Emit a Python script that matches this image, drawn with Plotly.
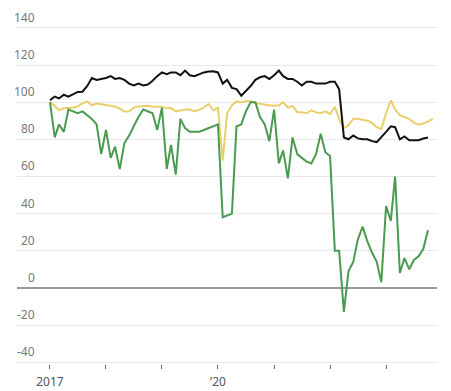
import pandas as pd
import plotly.graph_objects as go

# Monthly observations, Jan 2017 onward
months_black = pd.date_range("2017-01-01", periods=82, freq="MS")
months_yellow = pd.date_range("2017-01-01", periods=83, freq="MS")
months_green = pd.date_range("2017-01-01", periods=82, freq="MS")

black_values = [
    101, 103, 102, 104, 103, 104.5, 105.5, 105.6, 108.7, 113,
    112, 112.5, 113, 114, 112.5, 113, 112, 110, 109, 110,
    109, 109.5, 111.5, 114, 116, 115, 116, 116, 114.5, 117,
    114.5, 114, 115, 116, 116.5, 116.6, 116, 110, 112, 107.7,
    107, 103.5, 106, 108.7, 112, 113.4, 114, 112.5, 114.5, 117,
    114, 112.5, 112.5, 111, 109, 111, 111, 110, 110, 110,
    111, 111, 107, 81, 80, 82, 80.5, 80, 80, 79,
    78.5, 81.5, 84, 87, 86.5, 80, 81.5, 79.5, 79.5, 79.5,
    80.4, 81,
]

yellow_values = [
    100, 98, 95.6, 96.7, 97, 97, 97.7, 99.3, 100.4, 98.3,
    99.3, 99, 98.5, 98.3, 97.7, 96.5, 95, 95, 97, 97.7,
    97.7, 98, 97.5, 97.5, 97.5, 96.8, 96.8, 95, 95.5, 96,
    96, 95, 96, 97, 99, 95.5, 97, 68.5, 94, 98.3,
    100.4, 100, 100.5, 100.5, 99.5, 99, 98.5, 98.3, 98, 98.3,
    100, 97, 98, 94.6, 94.5, 94, 95.6, 94.5, 94, 95,
    93.5, 97.5, 91, 86, 87.5, 91, 91, 90.5, 90, 88.8,
    86.5, 85.5, 94, 101, 96, 93, 92, 91, 89, 88,
    88.5, 89.5, 91,
]

green_values = [
    100, 81, 88, 84, 96, 95, 94, 95, 93, 91,
    88, 72, 85, 70, 76, 64, 78, 82, 87, 92,
    96, 95, 94, 85, 97, 64, 77, 61, 91, 86,
    84, 84, 84, 85, 86, 87, 88, 38, 39, 40,
    87, 88, 95, 100, 100, 92, 88, 79, 96, 67,
    74, 59, 81, 72, 70, 68, 67, 72, 83, 73,
    71, 20, 20, -13, 9, 14, 26, 33, 25, 19,
    14, 3, 44, 36, 60, 8, 16, 10, 15, 17,
    21, 31,
]

y_tick_values = [-40, -20, 0, 20, 40, 60, 80, 100, 120, 140]
x_tick_values = ["2017-01-01", "2018-01-01", "2019-01-01", "2020-01-01",
                 "2021-01-01", "2022-01-01", "2023-01-01"]
x_tick_labels = ["2017", "", "", "\u201920", "", "", ""]

fig = go.Figure()
fig.add_trace(go.Scatter(x=months_yellow, y=yellow_values, mode="lines",
                         line=dict(color="#e9cf6c", width=2), hoverinfo="skip"))
fig.add_trace(go.Scatter(x=months_green, y=green_values, mode="lines",
                         line=dict(color="#4a9b50", width=2), hoverinfo="skip"))
fig.add_trace(go.Scatter(x=months_black, y=black_values, mode="lines",
                         line=dict(color="#111111", width=2), hoverinfo="skip"))

for v in y_tick_values:
    fig.add_annotation(x=0.048, xref="paper", y=v, yref="y", text=str(v),
                       showarrow=False, xanchor="right", yanchor="bottom",
                       font=dict(size=12, color="#777777", family="Noto Sans"))

# the page shows the figure offset 8px to the right, so it is narrowed to fit
fig.update_layout(
    width=443, height=391,
    margin=dict(l=9, r=14, t=18, b=25),
    plot_bgcolor="white", paper_bgcolor="white",
    showlegend=False,
    font=dict(family="Noto Sans", color="#666666"),
)
fig.update_xaxes(
    type="date",
    range=["2016-05-31", "2023-11-29"],
    tickvals=x_tick_values, ticktext=x_tick_labels,
    ticks="outside", ticklen=4, tickcolor="#666666", tickwidth=1,
    ticklabelstandoff=3,
    showgrid=False, zeroline=False, showline=False,
    tickfont=dict(size=12, color="#555555", family="Noto Sans"),
)
fig.update_yaxes(
    range=[-41, 141],
    tickvals=y_tick_values, showticklabels=False,
    showgrid=True, gridcolor="#e9e9e9", gridwidth=1,
    zeroline=True, zerolinecolor="#999999", zerolinewidth=2,
    showline=False, ticks="",
)

fig.write_html("out.html")
